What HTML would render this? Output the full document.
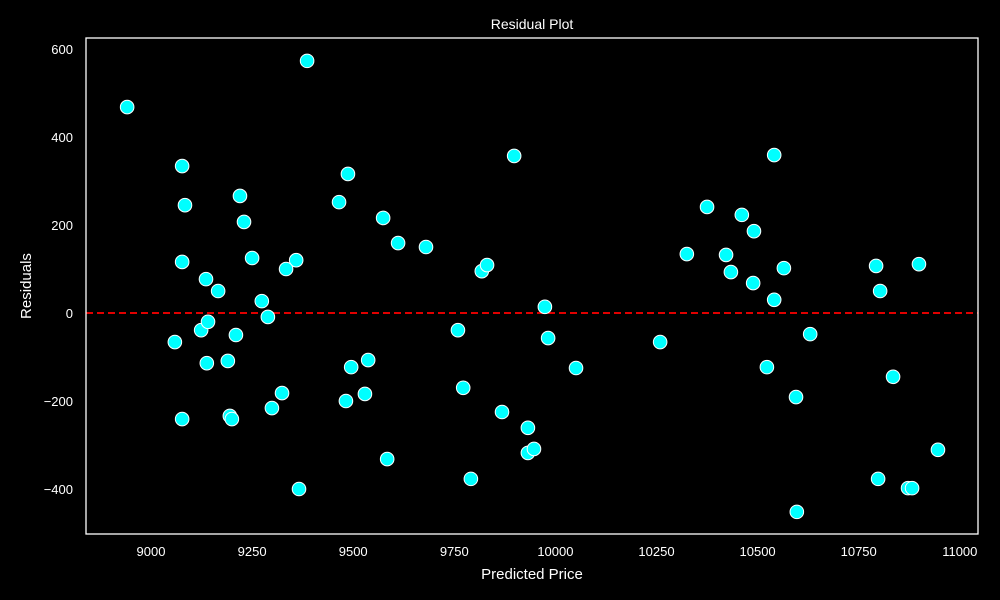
<!DOCTYPE html>
<html><head><meta charset="utf-8"><style>
body{margin:0;background:#000;}
svg{display:block;font-family:"Liberation Sans",sans-serif;}
</style></head><body>
<svg id="chart" width="1000" height="600">
<rect width="1000" height="600" fill="#000"/>
<text x="532" y="29" fill="#fff" font-size="14" text-anchor="middle">Residual Plot</text>
<text x="532" y="579" fill="#fff" font-size="15" text-anchor="middle">Predicted Price</text>
<text x="31" y="286" fill="#fff" font-size="15" text-anchor="middle" transform="rotate(-90 31 286)">Residuals</text>
<g id="ticks"></g>
<line id="zero" stroke="#ff0000" stroke-width="1.8" stroke-dasharray="7,4"/>
<g id="pts"></g>
<rect x="86" y="38" width="892" height="496" fill="none" stroke="#fff" stroke-width="1.3"/>
</svg>
<script>
const predicted=[8941,9386,9077,9487,9898,10541,9084,9220,9230,9465,9574,9077,9250,9359,9334,9611,9680,9136,9166,9274,9289,9059,9124,9141,9210,9138,9190,9495,9537,9759,9772,9818,9831,9974,9982,10051,9077,9195,9200,9299,9324,9366,9482,9529,9584,9791,9868,9932,9932,9947,10259,10325,10375,10422,10434,10461,10491,10489,10541,10565,10523,10595,10597,10630,10793,10803,10835,10899,10798,10872,10882,10946];
const residuals=[468,573,334,316,357,359,245,266,207,252,216,116,125,120,100,159,150,77,50,27,-9,-66,-39,-20,-50,-114,-109,-123,-107,-39,-170,95,109,14,-57,-125,-241,-234,-241,-216,-182,-400,-200,-184,-332,-377,-225,-261,-318,-309,-66,134,241,132,93,223,186,68,30,102,-123,-191,-452,-48,107,50,-145,111,-377,-398,-398,-311];
const xTicks=[9000,9250,9500,9750,10000,10250,10500,10750,11000];
const yTicks=[-400,-200,0,200,400,600];
const NS="http://www.w3.org/2000/svg";
function xs(v){return 151+(v-9000)*0.4044;}
function ys(v){return 313-v*0.44;}
const tg=document.getElementById('ticks');
xTicks.forEach(t=>{
 const e=document.createElementNS(NS,'text');
 
 
 e.setAttribute('x',xs(t));e.setAttribute('y',556);e.setAttribute('fill','#fff');e.setAttribute('font-size','13');e.setAttribute('text-anchor','middle');
 e.textContent=t;tg.appendChild(e);
});
yTicks.forEach(t=>{
 const e=document.createElementNS(NS,'text');
 
 
 e.setAttribute('x',73);e.setAttribute('y',ys(t)+5);e.setAttribute('fill','#fff');e.setAttribute('font-size','13');e.setAttribute('text-anchor','end');
 e.textContent=t<0?'\u2212'+(-t):t;tg.appendChild(e);
});
const z=document.getElementById('zero');
z.setAttribute('x1',86);z.setAttribute('x2',978);z.setAttribute('y1',ys(0));z.setAttribute('y2',ys(0));
const pg=document.getElementById('pts');
predicted.forEach((p,i)=>{
 const c=document.createElementNS(NS,'circle');
 
 
 c.setAttribute('cx',xs(p));c.setAttribute('cy',ys(residuals[i]));c.setAttribute('r',6.8);
 c.setAttribute('fill','#00ffff');c.setAttribute('stroke','#fff');c.setAttribute('stroke-width','1');
 pg.appendChild(c);
});
</script>
</body></html>
